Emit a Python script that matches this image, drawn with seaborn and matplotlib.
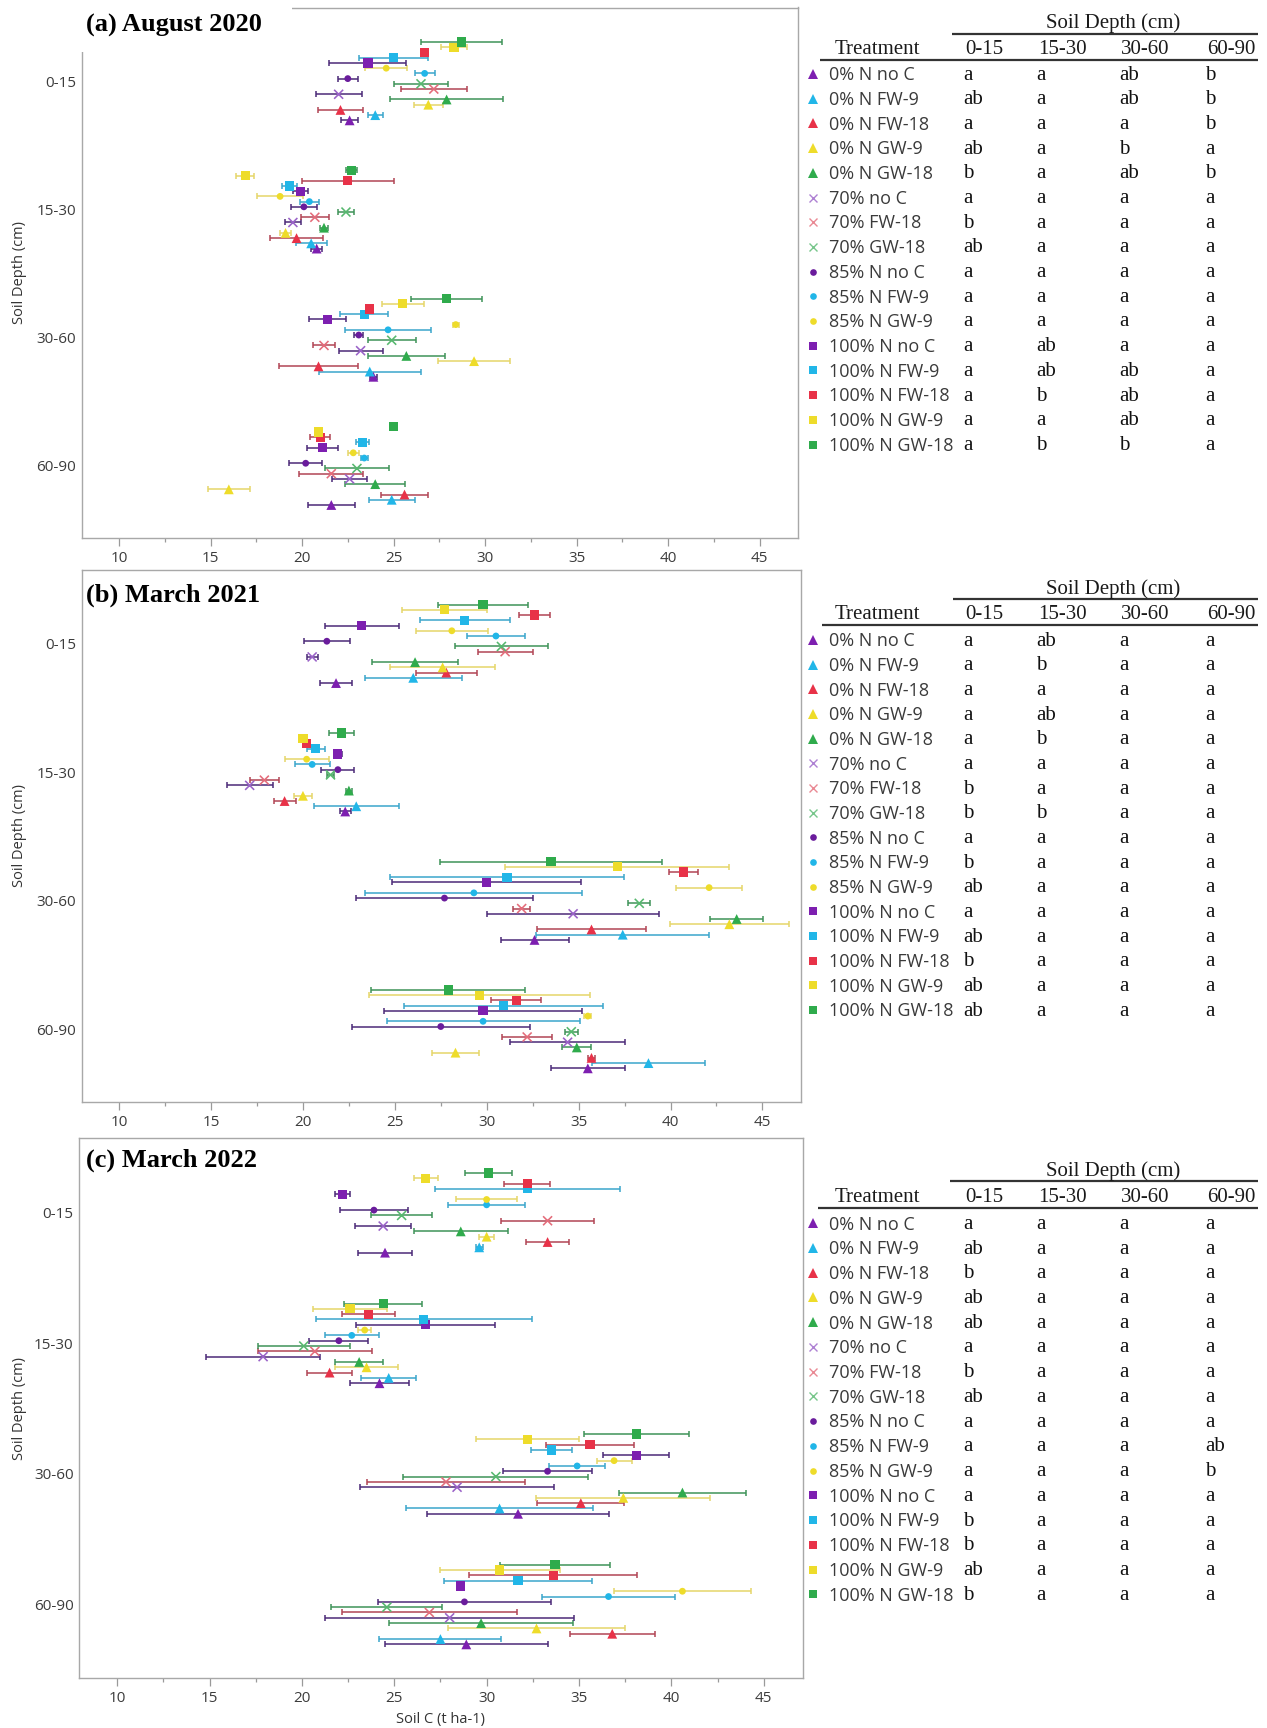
import numpy as np
import pandas as pd
import matplotlib
matplotlib.use("Agg")
import matplotlib.pyplot as plt
from matplotlib.patches import Rectangle
import seaborn as sns

# ---------------------------------------------------------------- data
treatments = ["0% N no C", "0% N FW-9", "0% N FW-18", "0% N GW-9", "0% N GW-18",
              "70% no C", "70% FW-18", "70% GW-18",
              "85% N no C", "85% N FW-9", "85% N GW-9",
              "100% N no C", "100% N FW-9", "100% N FW-18", "100% N GW-9", "100% N GW-18"]
depths = ["0-15", "15-30", "30-60", "60-90"]

# Soil C (t ha-1), mean and error, August 2020
aug20_mean_0_15 = [22.6, 24.0, 22.1, 26.9, 27.9, 22.0, 27.2, 26.5, 22.5, 26.7, 24.6, 23.6, 25.0, 26.7, 28.3, 28.7]
aug20_err_0_15 = [0.45, 0.4, 1.25, 0.8, 3.1, 1.25, 1.8, 1.5, 0.55, 0.55, 1.15, 2.1, 1.9, 0.2, 0.7, 2.2]
aug20_mean_15_30 = [20.8, 20.5, 19.7, 19.1, 21.2, 19.5, 20.7, 22.4, 20.1, 20.4, 18.8, 19.9, 19.3, 22.5, 16.9, 22.7]
aug20_err_15_30 = [0.3, 0.85, 1.45, 0.3, 0.2, 0.45, 0.75, 0.45, 0.7, 0.5, 1.25, 0.4, 0.4, 2.5, 0.5, 0.3]
aug20_mean_30_60 = [23.9, 23.7, 20.9, 29.4, 25.7, 23.2, 21.2, 24.9, 23.1, 24.7, 28.4, 21.4, 23.4, 23.7, 25.5, 27.9]
aug20_err_30_60 = [0.2, 2.8, 2.15, 1.95, 2.1, 1.2, 0.6, 1.3, 0.25, 2.35, 0.15, 1.0, 1.3, 0.2, 1.15, 1.95]
aug20_mean_60_90 = [21.6, 24.9, 25.6, 16.0, 24.0, 22.6, 21.6, 23.0, 20.2, 23.4, 22.8, 21.1, 23.3, 21.0, 20.9, 25.0]
aug20_err_60_90 = [1.3, 1.25, 1.3, 1.15, 1.65, 0.95, 1.75, 1.75, 0.9, 0.2, 0.3, 0.85, 0.35, 0.55, 0.2, 0.15]

# March 2021
mar21_mean_0_15 = [21.8, 26.0, 27.8, 27.6, 26.1, 20.5, 31.0, 30.8, 21.3, 30.5, 28.1, 23.2, 28.8, 32.6, 27.7, 29.8]
mar21_err_0_15 = [0.85, 2.65, 1.65, 2.85, 2.35, 0.3, 1.5, 2.55, 1.25, 1.6, 1.95, 2.0, 2.45, 0.85, 2.3, 2.45]
mar21_mean_15_30 = [22.3, 22.9, 19.0, 20.0, 22.5, 17.1, 17.9, 21.5, 21.9, 20.5, 20.2, 21.9, 20.7, 20.2, 20.0, 22.1]
mar21_err_15_30 = [0.3, 2.3, 0.6, 0.5, 0.15, 1.25, 0.8, 0.2, 0.9, 0.95, 1.2, 0.2, 0.5, 0.2, 0.2, 0.7]
mar21_mean_30_60 = [32.6, 37.4, 35.7, 43.2, 43.6, 34.7, 31.9, 38.3, 27.7, 29.3, 42.1, 30.0, 31.1, 40.7, 37.1, 33.5]
mar21_err_30_60 = [1.85, 4.7, 2.95, 3.25, 1.45, 4.7, 0.45, 0.6, 4.8, 5.9, 1.8, 5.15, 6.35, 0.8, 6.1, 6.05]
mar21_mean_60_90 = [35.5, 38.8, 35.7, 28.3, 34.9, 34.4, 32.2, 34.6, 27.5, 29.8, 35.5, 29.8, 30.9, 31.6, 29.6, 27.9]
mar21_err_60_90 = [2.0, 3.05, 0.2, 1.3, 0.8, 3.15, 1.35, 0.35, 4.85, 5.25, 0.2, 5.4, 5.4, 1.35, 6.0, 4.2]

# March 2022
mar22_mean_0_15 = [24.5, 29.6, 33.3, 30.0, 28.6, 24.4, 33.3, 25.4, 23.9, 30.0, 30.0, 22.2, 32.2, 32.2, 26.7, 30.1]
mar22_err_0_15 = [1.45, 0.2, 1.15, 0.4, 2.55, 1.5, 2.5, 1.65, 1.85, 2.1, 1.65, 0.4, 5.0, 1.25, 0.65, 1.25]
mar22_mean_15_30 = [24.2, 24.7, 21.5, 23.5, 23.1, 17.9, 20.7, 20.1, 22.0, 22.7, 23.4, 26.7, 26.6, 23.6, 22.6, 24.4]
mar22_err_15_30 = [1.6, 1.5, 1.2, 1.7, 1.3, 3.1, 3.1, 2.5, 1.6, 1.45, 0.35, 3.75, 5.85, 1.45, 2.0, 2.1]
mar22_mean_30_60 = [31.7, 30.7, 35.1, 37.4, 40.6, 28.4, 27.8, 30.5, 33.3, 34.9, 36.9, 38.1, 33.5, 35.6, 32.2, 38.1]
mar22_err_30_60 = [4.95, 5.05, 2.35, 4.7, 3.45, 5.25, 4.3, 5.0, 2.4, 1.5, 0.95, 1.8, 1.1, 2.4, 2.8, 2.85]
mar22_mean_60_90 = [28.9, 27.5, 36.8, 32.7, 29.7, 28.0, 26.9, 24.6, 28.8, 36.6, 40.6, 28.6, 31.7, 33.6, 30.7, 33.7]
mar22_err_60_90 = [4.4, 3.3, 2.3, 4.8, 5.0, 6.75, 4.75, 3.0, 4.7, 3.6, 3.7, 0.2, 4.0, 4.55, 3.25, 3.0]

# Mean separation letters (rows follow `treatments`)
aug20_letters_0_15 = ["a", "ab", "a", "ab", "b", "a", "b", "ab", "a", "a", "a", "a", "a", "a", "a", "a"]
aug20_letters_15_30 = ["a", "a", "a", "a", "a", "a", "a", "a", "a", "a", "a", "ab", "ab", "b", "a", "b"]
aug20_letters_30_60 = ["ab", "ab", "a", "b", "ab", "a", "a", "a", "a", "a", "a", "a", "ab", "ab", "ab", "b"]
aug20_letters_60_90 = ["b", "b", "b", "a", "b", "a", "a", "a", "a", "a", "a", "a", "a", "a", "a", "a"]

mar21_letters_0_15 = ["a", "a", "a", "a", "a", "a", "b", "b", "a", "b", "ab", "a", "ab", "b", "ab", "ab"]
mar21_letters_15_30 = ["ab", "b", "a", "ab", "b", "a", "a", "b", "a", "a", "a", "a", "a", "a", "a", "a"]
mar21_letters_30_60 = ["a"] * 16
mar21_letters_60_90 = ["a"] * 16

mar22_letters_0_15 = ["a", "ab", "b", "ab", "ab", "a", "b", "ab", "a", "a", "a", "a", "b", "b", "ab", "b"]
mar22_letters_15_30 = ["a"] * 16
mar22_letters_30_60 = ["a"] * 16
mar22_letters_60_90 = ["a", "a", "a", "a", "a", "a", "a", "a", "a", "ab", "b", "a", "a", "a", "a", "a"]

# ---------------------------------------------------------------- styling
PURPLE, CYAN, RED, YELLOW, GREEN = "#7d1fb0", "#21b6e8", "#e83248", "#eedc2a", "#2fab4c"
marker_colors = {
    "0% N no C": PURPLE, "0% N FW-9": CYAN, "0% N FW-18": RED, "0% N GW-9": YELLOW, "0% N GW-18": GREEN,
    "70% no C": "#9a62c8", "70% FW-18": "#e46c7a", "70% GW-18": "#56b86e",
    "85% N no C": "#6a1c9c", "85% N FW-9": CYAN, "85% N GW-9": YELLOW,
    "100% N no C": PURPLE, "100% N FW-9": CYAN, "100% N FW-18": RED, "100% N GW-9": YELLOW, "100% N GW-18": GREEN,
}
err_family = {PURPLE: "#4c2a78", CYAN: "#3aa6cc", RED: "#b24555", YELLOW: "#e6d66a", GREEN: "#3f9358"}
err_colors = {
    "0% N no C": err_family[PURPLE], "0% N FW-9": err_family[CYAN], "0% N FW-18": err_family[RED],
    "0% N GW-9": err_family[YELLOW], "0% N GW-18": err_family[GREEN],
    "70% no C": err_family[PURPLE], "70% FW-18": err_family[RED], "70% GW-18": err_family[GREEN],
    "85% N no C": err_family[PURPLE], "85% N FW-9": err_family[CYAN], "85% N GW-9": err_family[YELLOW],
    "100% N no C": err_family[PURPLE], "100% N FW-9": err_family[CYAN], "100% N FW-18": err_family[RED],
    "100% N GW-9": err_family[YELLOW], "100% N GW-18": err_family[GREEN],
}
shape_of = {t: ("^" if t.startswith("0%") else "x" if t.startswith("70%")
                else "o" if t.startswith("85%") else "s") for t in treatments}
shape_size = {"^": 50, "x": 42, "o": 24, "s": 44}
legend_size = {"^": 7.2, "x": 6.2, "o": 4.8, "s": 6.2}

sns.set_theme(style="white")
SANS = ["Open Sans", "DejaVu Sans"]
SERIF = ["Liberation Serif", "DejaVu Serif"]
plt.rcParams["font.family"] = SANS

W, H = 1267, 1728
fig = plt.figure(figsize=(W / 100, H / 100), dpi=100)


def px_axes(l, t, r, b):
    return fig.add_axes([l / W, 1 - b / H, (r - l) / W, (b - t) / H])


panels = [
    dict(title="(a) August 2020", rect=(81.5, 7.5, 798, 538.3), title_y=25,
         means=[aug20_mean_0_15, aug20_mean_15_30, aug20_mean_30_60, aug20_mean_60_90],
         errs=[aug20_err_0_15, aug20_err_15_30, aug20_err_30_60, aug20_err_60_90],
         letters=[aug20_letters_0_15, aug20_letters_15_30, aug20_letters_30_60, aug20_letters_60_90],
         table=(22.4, 34.4, 48.2, 60.3, 74.0, 24.7, 952, 820)),
    dict(title="(b) March 2021", rect=(81.5, 570, 801, 1101.7), title_y=595,
         means=[mar21_mean_0_15, mar21_mean_15_30, mar21_mean_30_60, mar21_mean_60_90],
         errs=[mar21_err_0_15, mar21_err_15_30, mar21_err_30_60, mar21_err_60_90],
         letters=[mar21_letters_0_15, mar21_letters_15_30, mar21_letters_30_60, mar21_letters_60_90],
         table=(588.3, 599.3, 612.7, 625, 640, 24.67, 953, 822)),
    dict(title="(c) March 2022", rect=(79.3, 1137.7, 802.5, 1678.3), title_y=1160,
         means=[mar22_mean_0_15, mar22_mean_15_30, mar22_mean_30_60, mar22_mean_60_90],
         errs=[mar22_err_0_15, mar22_err_15_30, mar22_err_30_60, mar22_err_60_90],
         letters=[mar22_letters_0_15, mar22_letters_15_30, mar22_letters_30_60, mar22_letters_60_90],
         table=(1170, 1181, 1195.7, 1207.7, 1223.3, 24.73, 950, 818)),
]

# vertical spread of the 16 treatments inside one depth band (first treatment lowest)
band_step = 0.0407
n_t = len(treatments)

for p in panels:
    ax = px_axes(*p["rect"])
    rows = []
    for d, depth in enumerate(depths):
        for i, t in enumerate(treatments):
            rows.append(dict(treatment=t, depth=depth, soc=p["means"][d][i], err=p["errs"][d][i],
                             ypos=d + ((n_t - 1) / 2 - i) * band_step, shape=shape_of[t]))
    df = pd.DataFrame(rows)

    for t in treatments:
        sub = df[df.treatment == t]
        ax.errorbar(sub.soc, sub.ypos, xerr=sub.err, fmt="none", ecolor=err_colors[t],
                    elinewidth=1.1, capsize=2.4, capthick=1.1, zorder=2)

    for m in ["^", "x", "o", "s"]:
        sub = df[df["shape"] == m]
        kw = dict(linewidth=1.15) if m == "x" else dict(linewidth=0, edgecolor="none")
        sns.scatterplot(data=sub, x="soc", y="ypos", hue="treatment",
                        palette={t: marker_colors[t] for t in sub.treatment.unique()},
                        marker=m, s=shape_size[m], legend=False, ax=ax, zorder=3, **kw)

    ax.set_xlim(7.95, 47.1)
    ax.set_ylim(3.565, -0.575)
    ax.set_xticks(np.arange(10, 46, 5))
    ax.set_xticks(np.arange(12.5, 46, 5), minor=True)
    ax.set_yticks(range(len(depths)))
    ax.set_yticklabels(depths)
    ax.set_xlabel("")
    ax.set_ylabel("")
    for s in ax.spines.values():
        s.set_color("#a8a8a8")
        s.set_linewidth(1.0)
    ax.tick_params(axis="x", which="major", direction="out", length=5.5, width=0.9,
                   color="#9a9a9a", labelsize=11, labelcolor="#3c3c3c", pad=4, bottom=True)
    ax.tick_params(axis="x", which="minor", direction="out", length=3, width=0.9,
                   color="#9a9a9a", bottom=True)
    ax.tick_params(axis="y", length=0, labelsize=11, labelcolor="#3c3c3c", pad=4)

# overlay in pixel coordinates for titles, axis labels and the letter tables
overlay = fig.add_axes([0, 0, 1, 1])
overlay.set_zorder(10)
overlay.set_xlim(0, W)
overlay.set_ylim(H, 0)
overlay.axis("off")
overlay.patch.set_alpha(0)

for k, p in enumerate(panels):
    l, t_, r, b = p["rect"]
    overlay.text(20, (t_ + b) / 2, "Soil Depth (cm)", rotation=90, ha="center", va="center",
                 fontsize=10.5, color="#333333")
    if k == 0:
        overlay.add_patch(Rectangle((75, 0), 217, 52, facecolor="white", edgecolor="none", zorder=4))
    overlay.text(86.5, p["title_y"] + 7, p["title"], ha="left", va="baseline", fontsize=19,
                 fontweight="bold", family=SERIF, color="black", zorder=5)

    y_sd, y_l1, y_hd, y_l2, y_r0, dy, x_l1, x_l2 = p["table"]
    overlay.text(1113, y_sd + 6, "Soil Depth (cm)", ha="center", va="baseline", fontsize=15,
                 family=SERIF, color="#1a1a1a")
    overlay.plot([x_l1, 1258], [y_l1, y_l1], color="#333333", lw=1.6, solid_capstyle="butt")
    overlay.text(877, y_hd + 6, "Treatment", ha="center", va="baseline", fontsize=15, family=SERIF,
                 color="#1a1a1a")
    for cx, lab in zip([984, 1062, 1145, 1231], depths):
        overlay.text(cx, y_hd + 6, lab, ha="center", va="baseline", fontsize=15, family=SERIF,
                     color="#1a1a1a")
    overlay.plot([x_l2, 1258], [y_l2, y_l2], color="#333333", lw=1.6, solid_capstyle="butt")
    for i, tr in enumerate(treatments):
        yy = y_r0 + i * dy
        m = shape_of[tr]
        if m == "x":
            overlay.plot([813], [yy], marker="x", ms=legend_size[m], mew=1.0, color=marker_colors[tr],
                         alpha=0.8, linestyle="none")
        else:
            overlay.plot([813], [yy], marker=m, ms=legend_size[m], mew=0, color=marker_colors[tr],
                         linestyle="none")
        overlay.text(829, yy + 6.3, tr, ha="left", va="baseline", fontsize=13, color="#3a3a3a")
        for cx, col in zip([963, 1036, 1119, 1205], p["letters"]):
            overlay.text(cx, yy + 5.5, col[i], ha="left", va="baseline", fontsize=15, family=SERIF,
                         color="#111111")

overlay.text(440, 1720, "Soil C (t ha-1)", ha="center", va="center", fontsize=10.5, color="#333333")

fig.savefig("out.png", dpi=100, facecolor="white")
